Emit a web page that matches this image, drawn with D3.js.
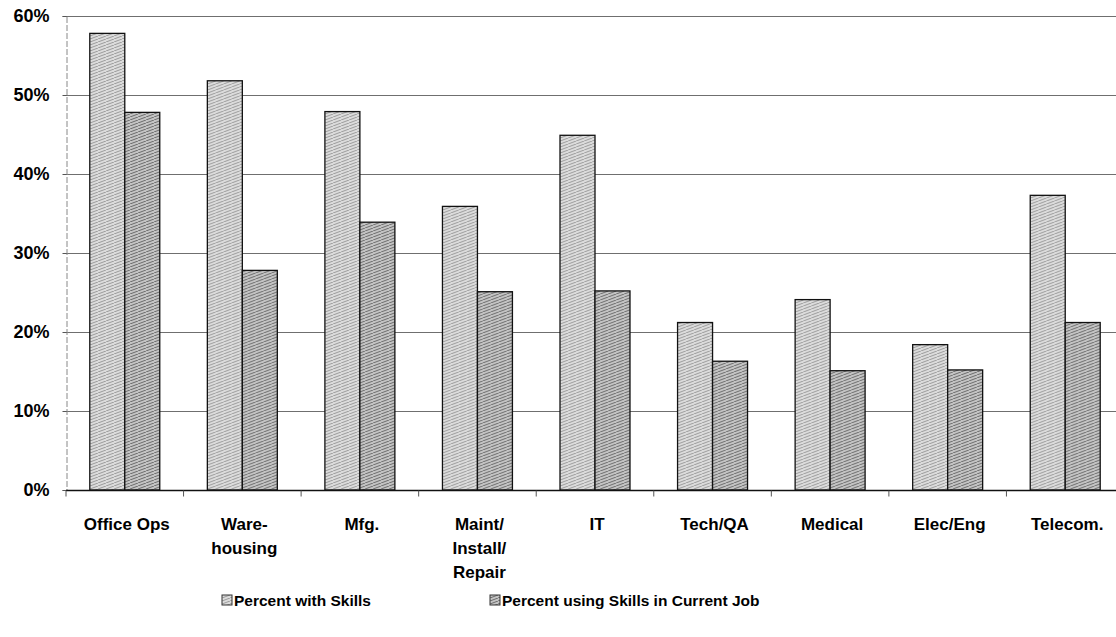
<!DOCTYPE html>
<html>
<head>
<meta charset="utf-8">
<style>
  body { margin: 0; background: #fff; }
  svg text { font-family: "Liberation Sans", Arial, sans-serif; font-weight: bold; fill: #000; }
</style>
</head>
<body>
<svg width="1116" height="637"></svg>
<script src="https://d3js.org/d3.v7.min.js"></script>
<script>

// chart values
var categories = [
  ["Office Ops"],
  ["Ware-", "housing"],
  ["Mfg."],
  ["Maint/", "Install/", "Repair"],
  ["IT"],
  ["Tech/QA"],
  ["Medical"],
  ["Elec/Eng"],
  ["Telecom."]
];
var seriesNames = ["Percent with Skills", "Percent using Skills in Current Job"];
var withSkills  = [57.8, 51.8, 47.9, 35.9, 44.9, 21.2, 24.1, 18.4, 37.3];
var usingSkills = [47.8, 27.8, 33.9, 25.1, 25.2, 16.3, 15.1, 15.2, 21.2];
var yTicks = [0, 10, 20, 30, 40, 50, 60];

var svg = d3.select("svg"),
    plotL = 66, plotR = 1124, plotT = 16, plotB = 490;

var defs = svg.append("defs");

// scanned-looking hatch fills
function hatch(id, bg, ink) {
  var p = defs.append("pattern")
      .attr("id", id)
      .attr("patternUnits", "userSpaceOnUse")
      .attr("width", 8)
      .attr("height", 3);
  p.append("rect").attr("width", 8).attr("height", 3).attr("fill", bg);
  p.append("path").attr("d", "M0,3 L8,0").attr("stroke", ink).attr("stroke-width", 0.8);
}
hatch("h0", "#dcdcdc", "#8a8a8a");
hatch("h1", "#c4c4c4", "#555");

var fills = ["url(#h0)", "url(#h1)"];

var data = categories.map(function(c, i) {
  return { label: c, values: [withSkills[i], usingSkills[i]] };
});

var x0 = d3.scaleBand()
    .domain(d3.range(categories.length))
    .range([plotL, plotR])
    .padding(0);

var x1 = d3.scaleBand()
    .domain([0, 1])
    .range([0, x0.bandwidth()])
    .paddingInner(0)
    .paddingOuter(0.68);

var y = d3.scaleLinear()
    .domain([0, 60])
    .range([plotB, plotT]);

// gridlines
svg.append("g")
  .selectAll("line")
  .data(yTicks.filter(function(t) { return t > 0; }))
  .enter().append("line")
    .attr("x1", plotL)
    .attr("x2", 1116)
    .attr("y1", function(d) { return y(d) + 0.5; })
    .attr("y2", function(d) { return y(d) + 0.5; })
    .attr("stroke", "#6f6f6f")
    .attr("stroke-width", 1.2);

// y axis
var yAxis = svg.append("g")
    .attr("transform", "translate(" + (plotL + 0.5) + ",0)")
    .call(d3.axisLeft(y).tickValues(yTicks).tickSize(4).tickPadding(13)
      .tickFormat(function(d) { return d + "%"; }));
yAxis.select(".domain").attr("stroke", "#888").attr("stroke-dasharray", "6,2");
yAxis.selectAll(".tick line").attr("stroke", "#555");
yAxis.selectAll("text")
    .attr("font-size", 18)
    .attr("font-family", "Liberation Sans, Arial, sans-serif")
    .attr("font-weight", "bold")
    .attr("fill", "#000");

// bars
svg.append("g")
  .selectAll("g")
  .data(data)
  .enter().append("g")
    .attr("transform", function(d, i) { return "translate(" + x0(i) + ",0)"; })
  .selectAll("rect")
  .data(function(d) { return d.values; })
  .enter().append("rect")
    .attr("x", function(d, j) { return x1(j); })
    .attr("y", function(d) { return y(d); })
    .attr("width", x1.bandwidth())
    .attr("height", function(d) { return plotB - y(d); })
    .attr("fill", function(d, j) { return fills[j]; })
    .attr("stroke", "#111")
    .attr("stroke-width", 1.3);

// x axis
var xAxis = svg.append("g")
    .attr("transform", "translate(0," + (plotB + 0.5) + ")");
xAxis.append("line")
    .attr("x1", plotL).attr("x2", 1116)
    .attr("stroke", "#111").attr("stroke-width", 1.5);
xAxis.selectAll(".tk")
  .data(d3.range(categories.length + 1))
  .enter().append("line")
    .attr("class", "tk")
    .attr("x1", function(i) { return plotL + i * x0.step(); })
    .attr("x2", function(i) { return plotL + i * x0.step(); })
    .attr("y1", 0).attr("y2", 6)
    .attr("stroke", "#555");

// category labels
var labels = svg.append("g")
  .selectAll("text")
  .data(data)
  .enter().append("text")
    .attr("x", function(d, i) { return x0(i) + x0.bandwidth() / 2 + 2; })
    .attr("y", 530)
    .attr("text-anchor", "middle")
    .attr("font-size", 17);
labels.selectAll("tspan")
  .data(function(d) { return d.label; })
  .enter().append("tspan")
    .attr("x", function() { return d3.select(this.parentNode).attr("x"); })
    .attr("dy", function(d, i) { return i === 0 ? 0 : 24; })
    .text(function(d) { return d; });

// legend
var legend = svg.append("g")
  .selectAll("g")
  .data(seriesNames)
  .enter().append("g")
    .attr("transform", function(d, i) { return "translate(" + (i === 0 ? 222 : 490) + ",595)"; });
legend.append("rect")
    .attr("width", 10).attr("height", 10)
    .attr("fill", function(d, i) { return fills[i]; })
    .attr("stroke", "#333");
legend.append("text")
    .attr("x", 12)
    .attr("y", 11)
    .attr("font-size", 15.5)
    .text(function(d) { return d; });

</script>
</body>
</html>
